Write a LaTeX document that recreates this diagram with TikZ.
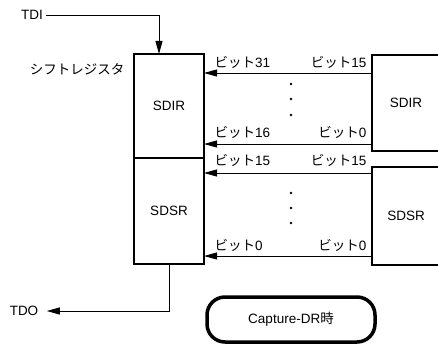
\documentclass[tikz,border=0pt]{standalone}
\usepackage{fontspec}
\setmainfont{Liberation Sans}
\newfontfamily\jp{Noto Sans CJK JP}
\usetikzlibrary{arrows.meta,positioning}
\newcommand{\bitno}[1]{{\jp ビット}#1}
\tikzset{
  reg/.style={draw,line width=2pt,minimum width=70,outer sep=0pt,inner sep=0pt},
  arr/.style={-{Triangle[length=13pt,width=7pt]},line width=0.9pt},
  capbox/.style={draw,line width=3.5pt,rounded corners=18pt,minimum width=168,minimum height=45}
}

\begin{document}
\begin{tikzpicture}[x=1pt,y=-1pt,every node/.style={font=\fontsize{13.5}{16}\selectfont}]
\clip (0,0) rectangle (438,345);
\node[reg,minimum height=104] (sdir) at (169,106) {\raisebox{-4pt}{SDIR}};
\node[reg,minimum height=106,below=0pt of sdir] (sdsr) {SDSR};
\node[reg,minimum width=68,minimum height=96] (sdirR) at (406,103) {SDIR};
\node[reg,minimum width=68,minimum height=98] (sdsrR) at (406,216) {SDSR};
\node[anchor=east] (shift) at (128,69) {\jp シフトレジスタ};
\node (tdi) at (32,15) {TDI};
\node (tdo) at (24,311) {TDO};
\node[capbox] (cap) at (291,319.5) {Capture-DR{\jp 時}};
\draw[arr] (tdi.east) -| ([xshift=-10pt]sdir.north);
\draw[arr] (sdsr.south) |- ([xshift=5pt]tdo.east);
% bit arrows
\coordinate (a1) at (372,73);
\coordinate (a2) at (372,144);
\coordinate (a3) at (372,173);
\coordinate (a4) at (372,256);
\draw[arr] (a1) -- (a1 -| sdir.east);
\draw[arr] (a2) -- (a2 -| sdir.east);
\draw[arr] (a3) -- (a3 -| sdir.east);
\draw[arr] (a4) -- (a4 -| sdir.east);
\node[anchor=west] (l1) at (211,62) {\bitno{31}};
\node[anchor=east] (r1) at (370,62) {\bitno{15}};
\node[anchor=west] (l2) at (211,132) {\bitno{16}};
\node[anchor=east] (r2) at (370,132) {\bitno{0}};
\node[anchor=west] (l3) at (211,160) {\bitno{15}};
\node[anchor=east] (r3) at (370,160) {\bitno{15}};
\node[anchor=west] (l4) at (211,245) {\bitno{0}};
\node[anchor=east] (r4) at (370,245) {\bitno{0}};
% dots
\fill (291,84) circle (1.3) (291,99) circle (1.3) (291,115) circle (1.3);
\fill (291,193) circle (1.3) (291,208) circle (1.3) (291,223) circle (1.3);
\end{tikzpicture}
\end{document}
